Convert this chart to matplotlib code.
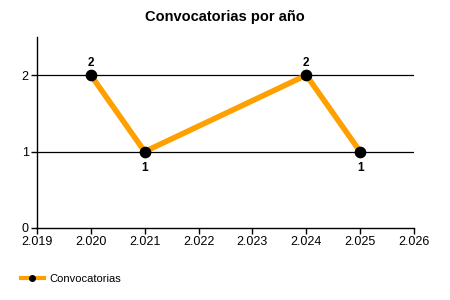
import matplotlib
matplotlib.use("Agg")
import matplotlib.pyplot as plt
from matplotlib.lines import Line2D

years = [2020, 2021, 2024, 2025]
values = [2, 1, 2, 1]
label_pos = ["above", "below", "above", "below"]
xticks = [2019, 2020, 2021, 2022, 2023, 2024, 2025, 2026]
xtick_labels = ["2.019", "2.020", "2.021", "2.022", "2.023", "2.024", "2.025", "2.026"]
yticks = [0, 1, 2]
series_name = "Convocatorias"
title = "Convocatorias por año"

plt.rcParams['font.family'] = ['Liberation Sans', 'DejaVu Sans']

fig = plt.figure(figsize=(4.5, 3), dpi=100)
ax = fig.add_axes([37/450, 1-228/300, (414-37)/450, (228-37)/300])

ax.plot(years, values, color='#FFA000', lw=4, zorder=3, solid_joinstyle='round')
ax.scatter(years, values, s=55, color='black', zorder=4)
for x, y, p in zip(years, values, label_pos):
    if p == "above":
        ax.annotate(str(y), (x, y), xytext=(0, 4.5), textcoords='offset points',
                    ha='center', va='bottom', fontsize=8.5, fontweight='bold')
    else:
        ax.annotate(str(y), (x, y), xytext=(0, -7.5), textcoords='offset points',
                    ha='center', va='top', fontsize=8.5, fontweight='bold')

ax.set_xlim(2019, 2026)
ax.set_ylim(0, 2.5)
ax.set_xticks(xticks)
ax.set_xticklabels(xtick_labels)
ax.set_yticks(yticks)
ax.tick_params(labelsize=9, length=4, width=1, color='black', direction='out', pad=2)
for y in [1, 2]:
    ax.axhline(y, color='black', lw=0.9, zorder=1)
for s in ['top', 'right']:
    ax.spines[s].set_visible(False)
for s in ['left', 'bottom']:
    ax.spines[s].set_linewidth(1)

fig.text(0.5, 1-17/300, title, ha='center', va='center', fontsize=10.5, fontweight='bold')

handle = Line2D([0], [0], color='#FFA000', lw=3, marker='o', markersize=4,
                markerfacecolor='black', markeredgecolor='black')
fig.legend([handle], [series_name], loc='center left', bbox_to_anchor=(0.035, 1-279/300),
           frameon=False, fontsize=8, handlelength=2, handletextpad=0.5, borderpad=0)

fig.savefig('out.png', dpi=100)
